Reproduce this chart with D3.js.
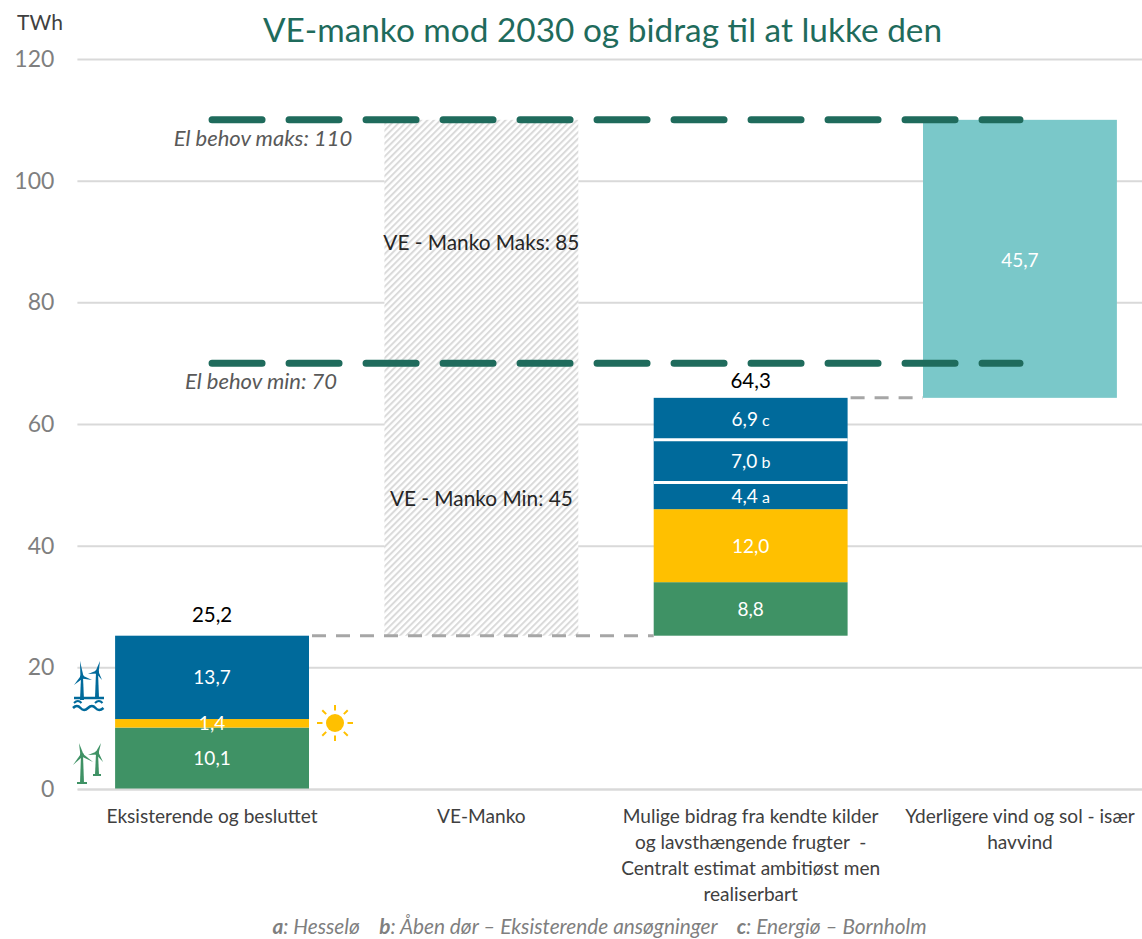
<!DOCTYPE html>
<html>
<head>
<meta charset="utf-8">
<script src="https://cdn.jsdelivr.net/npm/d3@7"></script>
<style>
html,body{margin:0;padding:0;background:#fff;overflow:hidden;}
svg{display:block;font-family:Lato,"Open Sans",sans-serif;}
tspan,text{white-space:pre;}
</style>
</head>
<body>
<div id="chart"></div>
<script>
// values
var categories=["Eksisterende og besluttet","VE-Manko","Mulige bidrag fra kendte kilder","Yderligere vind og sol"];
var categoryLines=[
	["Eksisterende og besluttet"],
	["VE-Manko"],
	["Mulige bidrag fra kendte kilder","og lavsthængende frugter  -","Centralt estimat ambitiøst men","realiserbart"],
	["Yderligere vind og sol - især","havvind"]
];
var yTicks=[0,20,40,60,80,100,120];
var existing=[10.1,1.4,13.7];
var existingKinds=["land","sol","hav"];
var existingText=["10,1","1,4","13,7"];
var bidrag=[8.8,12.0,4.4,7.0,6.9];
var bidragKinds=["land","sol","hav","hav","hav"];
var bidragText=["8,8","12,0","4,4","7,0","6,9"];
var bidragNote=["","","a","b","c"];
var mankoRange=[25.2,110];
var restRange=[64.3,110];
var restText="45,7";
var totals=[25.2,64.3];
var behov=[110,70];
var behovText=["El behov maks: 110","El behov min: 70"];
var mankoText=[["VE - Manko Maks: 85",89.6],["VE - Manko Min: 45",47.5]];

var colors={land:"#3f9265",sol:"#ffc000",hav:"#006a9b",rest:"#7ac8c9",line:"#1f6b5c"};

var W=1142,H=939;
var margin={left:77.4,top:59,bottom:150};
var height=H-margin.top-margin.bottom;

var x=d3.scaleBand().domain(categories).range([0,1077.2]).paddingInner(0.28).paddingOuter(0.14);
var y=d3.scaleLinear().domain([0,120]).range([height,0]);

var svg=d3.select("#chart").append("svg").attr("width",W).attr("height",H);

var defs=svg.append("defs");
var hatch=defs.append("pattern").attr("id","hatch").attr("patternUnits","userSpaceOnUse")
	.attr("width",4.6).attr("height",4.6).attr("patternTransform","rotate(45)");
hatch.append("rect").attr("width",4.6).attr("height",4.6).attr("fill","#fff");
hatch.append("rect").attr("width",2).attr("height",4.6).attr("fill","#dadada");

var g=svg.append("g").attr("transform","translate("+margin.left+","+margin.top+")");

// y axis with gridlines
var yAxis=d3.axisLeft(y).tickValues(yTicks).tickSize(-1080).tickPadding(23);
var ya=g.append("g").call(yAxis);
ya.select(".domain").remove();
ya.selectAll("line").attr("stroke","#d9d9d9").attr("stroke-width",2);
ya.selectAll("text").attr("fill","#7f7f7f").style("font-size","23px").attr("font-family","Lato,sans-serif");

svg.append("text").attr("x",40).attr("y",30).attr("text-anchor","middle")
	.style("font-size","21px").attr("fill","#404040").text("TWh");

svg.append("text").attr("x",602.5).attr("y",42).attr("text-anchor","middle")
	.style("font-size","33.4px").attr("fill",colors.line).text("VE-manko mod 2030 og bidrag til at lukke den");

// manko bar
g.append("rect").attr("x",x(categories[1])).attr("width",x.bandwidth())
	.attr("y",y(mankoRange[1])).attr("height",y(mankoRange[0])-y(mankoRange[1]))
	.attr("fill","url(#hatch)");

function stack(values,kinds,base){
	var rows=[],sum=base;
	values.forEach(function(v,i){
		rows.push({y0:sum,y1:sum+v,kind:kinds[i],i:i});
		sum+=v;
	});
	return rows;
}

var rows1=stack(existing,existingKinds,0);
var rows3=stack(bidrag,bidragKinds,totals[0]);

g.selectAll("rect.s1").data(rows1).enter().append("rect").attr("class","s1")
	.attr("x",x(categories[0])).attr("width",x.bandwidth())
	.attr("y",function(d){return y(d.y1);})
	.attr("height",function(d){return y(d.y0)-y(d.y1);})
	.attr("fill",function(d){return colors[d.kind];});

g.selectAll("rect.s3").data(rows3).enter().append("rect").attr("class","s3")
	.attr("x",x(categories[2])).attr("width",x.bandwidth())
	.attr("y",function(d){return y(d.y1);})
	.attr("height",function(d){return y(d.y0)-y(d.y1);})
	.attr("fill",function(d){return colors[d.kind];});

// white gaps between the blue parts
g.selectAll("line.gap").data(rows3.filter(function(d){return d.i>=3;})).enter().append("line")
	.attr("x1",x(categories[2])).attr("x2",x(categories[2])+x.bandwidth())
	.attr("y1",function(d){return y(d.y0);}).attr("y2",function(d){return y(d.y0);})
	.attr("stroke","#fff").attr("stroke-width",3);

// top bar
g.append("rect").attr("x",x(categories[3])).attr("width",x.bandwidth())
	.attr("y",y(restRange[1])).attr("height",y(restRange[0])-y(restRange[1]))
	.attr("fill",colors.rest);

// grey connectors
var conn=[[categories[0],categories[2],totals[0]],[categories[2],categories[3],totals[1]]];
g.selectAll("line.conn").data(conn).enter().append("line")
	.attr("x1",function(d){return x(d[0])+x.bandwidth()+3;})
	.attr("x2",function(d){return x(d[1]);})
	.attr("y1",function(d){return y(d[2]);}).attr("y2",function(d){return y(d[2]);})
	.attr("stroke","#a6a6a6").attr("stroke-width",3).attr("stroke-dasharray","14 10");

// el behov dashed lines
g.selectAll("line.behov").data(behov).enter().append("line")
	.attr("x1",x(categories[0])+x.bandwidth()/2)
	.attr("x2",x(categories[3])+x.bandwidth()/2)
	.attr("y1",function(d){return y(d);}).attr("y2",function(d){return y(d);})
	.attr("stroke",colors.line).attr("stroke-width",7).attr("stroke-linecap","round")
	.attr("stroke-dasharray","50 27");

// value labels
function valueLabels(rows,texts,cat,notes){
	var t=g.selectAll("text.v"+cat.length).data(rows).enter().append("text")
		.attr("x",x(cat)+x.bandwidth()/2)
		.attr("y",function(d){return y((d.y0+d.y1)/2)+7;})
		.attr("text-anchor","middle").attr("fill","#fff").style("font-size","19px")
		.text(function(d){return texts[d.i];});
	if(notes){
		t.append("tspan").style("font-size","16px").text(function(d){return notes[d.i]?" "+notes[d.i]:"";});
	}
}
valueLabels(rows1,existingText,categories[0]);
valueLabels(rows3,bidragText,categories[2],bidragNote);

g.append("text").attr("x",x(categories[3])+x.bandwidth()/2).attr("y",y((restRange[0]+restRange[1])/2)+8)
	.attr("text-anchor","middle").attr("fill","#fff").style("font-size","19px").text(restText);

var totalGap=[14,10];
[categories[0],categories[2]].forEach(function(c,i){
	g.append("text").attr("x",x(c)+x.bandwidth()/2).attr("y",y(totals[i])-totalGap[i])
		.attr("text-anchor","middle").attr("fill","#000").style("font-size","20.5px")
		.text(String(totals[i]).replace(".",","));
});

mankoText.forEach(function(d){
	g.append("text").attr("x",x(categories[1])+x.bandwidth()/2).attr("y",y(d[1])+6)
		.attr("text-anchor","middle").attr("fill","#262626").style("font-size","20.8px").text(d[0]);
});

behovText.forEach(function(d,i){
	svg.append("text").attr("x",i==0?263:261).attr("y",margin.top+y(behov[i])+26)
		.attr("text-anchor","middle").attr("fill","#595959").style("font-size","22px")
		.style("font-style","italic").text(d);
});

// category labels
var xa=g.append("g").attr("transform","translate(0,"+height+")").call(d3.axisBottom(x).tickSize(0).tickFormat(""));
xa.select(".domain").attr("stroke","#d9d9d9").attr("stroke-width",2);
xa.selectAll(".tick").each(function(d,i){
	var t=d3.select(this).select("text").attr("fill","#404040").attr("y",0).attr("dy",0).style("font-size","19.1px").attr("font-family","Lato,sans-serif");
	categoryLines[i].forEach(function(l,j){
		t.append("tspan").attr("x",0).attr("y",34+j*26).text(l);
	});
});

// footnote
var foot=svg.append("text").attr("x",599.5).attr("y",934).attr("text-anchor","middle")
	.attr("fill","#7f7f7f").style("font-size","20.8px").style("font-style","italic");
[["a",1],[": Hesselø    ",0],["b",1],[": Åben dør – Eksisterende ansøgninger    ",0],["c",1],[": Energiø – Bornholm",0]].forEach(function(p){
	foot.append("tspan").style("font-weight",p[1]?"bold":"normal").text(p[0]);
});

// small icons
function turbine(p,hub,tips,baseY,col){
	p.append("path").attr("d","M"+(hub[0]-1)+","+hub[1]+"L"+(hub[0]+1)+","+hub[1]+"L"+(hub[0]+2)+","+baseY+"L"+(hub[0]-2)+","+baseY+"Z").attr("fill",col);
	tips.forEach(function(t){
		var dx=t[0]-hub[0],dy=t[1]-hub[1],l=Math.sqrt(dx*dx+dy*dy),nx=-dy/l*1.6,ny=dx/l*1.6;
		p.append("path").attr("d","M"+(hub[0]+nx)+","+(hub[1]+ny)+"L"+t[0]+","+t[1]+"L"+(hub[0]-nx)+","+(hub[1]-ny)+"Z").attr("fill",col);
	});
	p.append("circle").attr("cx",hub[0]).attr("cy",hub[1]).attr("r",2).attr("fill",col);
}
var icons=svg.append("g");
turbine(icons,[82,755],[[79,743],[93,762],[73,765]],783,colors.land);
turbine(icons,[97,753],[[101,743],[88,755],[103,762]],775,colors.land);
icons.append("path").attr("d","M77,783H87M93,775H101").attr("stroke",colors.land).attr("stroke-width",2);
turbine(icons,[82,677],[[80,661],[92,680],[74,685]],700,colors.hav);
turbine(icons,[97,672],[[100,661],[88,674],[102,680]],698,colors.hav);
icons.append("path").attr("d","M73,708q4,-4 7.5,0t7.5,0t7.5,0t8,0M74,698H104").attr("fill","none").attr("stroke",colors.hav).attr("stroke-width",2.5);
icons.append("path").attr("d","M74,703q4,-4 7.5,0M95,703q4,-4 7.5,0").attr("fill","none").attr("stroke",colors.hav).attr("stroke-width",2);

var sun=svg.append("g").attr("transform","translate(335,723)");
sun.append("circle").attr("r",9).attr("fill",colors.sol);
d3.range(8).forEach(function(i){
	var a=i*Math.PI/4;
	sun.append("line").attr("x1",Math.cos(a)*12.5).attr("y1",Math.sin(a)*12.5)
		.attr("x2",Math.cos(a)*18).attr("y2",Math.sin(a)*18)
		.attr("stroke",colors.sol).attr("stroke-width",2);
});
</script>
</body>
</html>
